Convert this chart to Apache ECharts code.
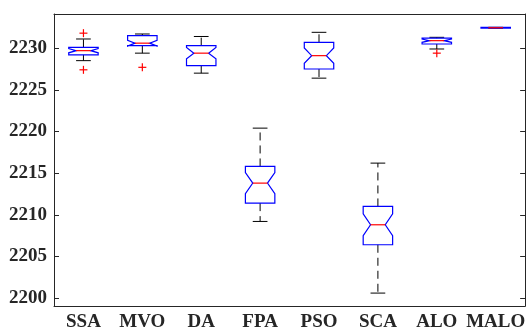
<!DOCTYPE html>
<html>
<head>
<meta charset="utf-8">
<script src="https://cdn.jsdelivr.net/npm/echarts@6/dist/echarts.min.js"></script>
<style>
  html, body { margin: 0; padding: 0; background: #fff; }
  #main { width: 528px; height: 334px; }
</style>
</head>
<body>
<div id="main"></div>
<script>
// ---- data ----
const categories = ['SSA', 'MVO', 'DA', 'FPA', 'PSO', 'SCA', 'ALO', 'MALO'];
const lowerWhisker = [2228.5, 2229.4, 2227.0, 2209.2, 2226.4, 2200.6, 2229.9, 2232.4];
const q1 = [2229.2, 2230.3, 2227.9, 2211.4, 2227.5, 2206.4, 2230.5, 2232.4];
const median = [2229.7, 2230.6, 2229.4, 2213.8, 2229.1, 2208.8, 2230.9, 2232.45];
const q3 = [2230.1, 2231.5, 2230.3, 2215.8, 2230.7, 2211.0, 2231.2, 2232.5];
const upperWhisker = [2231.1, 2231.7, 2231.4, 2220.4, 2231.9, 2216.2, 2231.3, 2232.5];
// [category index, value]
const outliers = [[0, 2231.8], [0, 2227.4], [1, 2227.7], [6, 2229.4]];
const runs = 30; // samples per algorithm, used for notch size

const axisColor = '#262626';
const fontFamily = '"Liberation Serif", "Times New Roman", serif';

const boxData = categories.map((c, i) => [i, lowerWhisker[i], q1[i], median[i], q3[i], upperWhisker[i]]);

// MATLAB-like notched box
function renderBox(params, api) {
    const i = api.value(0);
    const half = api.size([1, 0])[0] * 0.25;
    const lo = api.value(1), a = api.value(2), m = api.value(3), b = api.value(4), hi = api.value(5);
    const notch = 1.57 * (b - a) / Math.sqrt(runs);
    const cx = api.coord([i, m])[0];
    const y = v => api.coord([i, v])[1];

    const yq1 = y(a), yq3 = y(b), ym = y(m);
    const yn1 = y(m - notch), yn3 = y(m + notch);
    const boxPts = [
        [cx - half, yq1], [cx - half, yn1], [cx - half / 2, ym], [cx - half, yn3], [cx - half, yq3],
        [cx + half, yq3], [cx + half, yn3], [cx + half / 2, ym], [cx + half, yn1], [cx + half, yq1]
    ];
    const capW = half / 2;
    const dash = { stroke: '#000', lineWidth: 1, lineDash: [8, 5] };
    const solid = { stroke: '#000', lineWidth: 1 };

    return {
        type: 'group',
        children: [
            { type: 'line', shape: { x1: cx, y1: yq3, x2: cx, y2: y(hi) }, style: dash },
            { type: 'line', shape: { x1: cx, y1: yq1, x2: cx, y2: y(lo) }, style: dash },
            { type: 'line', shape: { x1: cx - capW, y1: y(hi), x2: cx + capW, y2: y(hi) }, style: solid },
            { type: 'line', shape: { x1: cx - capW, y1: y(lo), x2: cx + capW, y2: y(lo) }, style: solid },
            { type: 'polygon', shape: { points: boxPts }, style: { fill: null, stroke: '#0000ff', lineWidth: 1.2 } },
            { type: 'line', shape: { x1: cx - half / 2, y1: ym, x2: cx + half / 2, y2: ym }, style: { stroke: '#ff0000', lineWidth: 1.2 } }
        ]
    };
}

function renderOutlier(params, api) {
    const p = api.coord([api.value(0), api.value(1)]);
    const r = 4;
    const st = { stroke: '#ff0000', lineWidth: 1.2 };
    return {
        type: 'group',
        children: [
            { type: 'line', shape: { x1: p[0] - r, y1: p[1], x2: p[0] + r, y2: p[1] }, style: st },
            { type: 'line', shape: { x1: p[0], y1: p[1] - r, x2: p[0], y2: p[1] + r }, style: st }
        ]
    };
}

const chart = echarts.init(document.getElementById('main'));
const labelFont = { color: axisColor, fontFamily: fontFamily, fontWeight: 'bold', fontSize: 19 };

chart.setOption({
    animation: false,
    backgroundColor: '#fff',
    grid: { left: 54, right: -1, top: 14, bottom: 28 },
    xAxis: [
        {
            type: 'category',
            data: categories,
            position: 'bottom',
            axisLine: { lineStyle: { color: axisColor, width: 1 } },
            axisTick: { inside: true, alignWithLabel: true, length: 5, lineStyle: { color: axisColor } },
            axisLabel: Object.assign({ margin: 7, interval: 0 }, labelFont),
            splitLine: { show: false }
        },
        {
            type: 'category',
            data: categories,
            position: 'top',
            axisLine: { lineStyle: { color: axisColor, width: 1 } },
            axisTick: { inside: true, alignWithLabel: true, length: 5, lineStyle: { color: axisColor } },
            axisLabel: { show: false },
            splitLine: { show: false }
        }
    ],
    yAxis: [
        {
            type: 'value',
            min: 2199.05,
            max: 2234.1,
            splitNumber: 7,
            position: 'left',
            axisLine: { show: true, lineStyle: { color: axisColor, width: 1 } },
            axisTick: { show: true, inside: true, length: 5, lineStyle: { color: axisColor } },
            axisLabel: Object.assign({
                margin: 7, showMinLabel: false, showMaxLabel: false,
                formatter: v => String(v)
            }, labelFont),
            splitLine: { show: false }
        },
        {
            type: 'value',
            min: 2199.05,
            max: 2234.1,
            splitNumber: 7,
            position: 'right',
            axisLine: { show: true, lineStyle: { color: axisColor, width: 1 } },
            axisTick: { show: true, inside: true, length: 5, lineStyle: { color: axisColor } },
            axisLabel: { show: false },
            splitLine: { show: false }
        }
    ],
    series: [
        {
            type: 'custom',
            renderItem: renderBox,
            encode: { x: 0, y: [1, 2, 3, 4, 5] },
            data: boxData
        },
        {
            type: 'custom',
            renderItem: renderOutlier,
            encode: { x: 0, y: 1 },
            data: outliers
        }
    ]
});
</script>
</body>
</html>
